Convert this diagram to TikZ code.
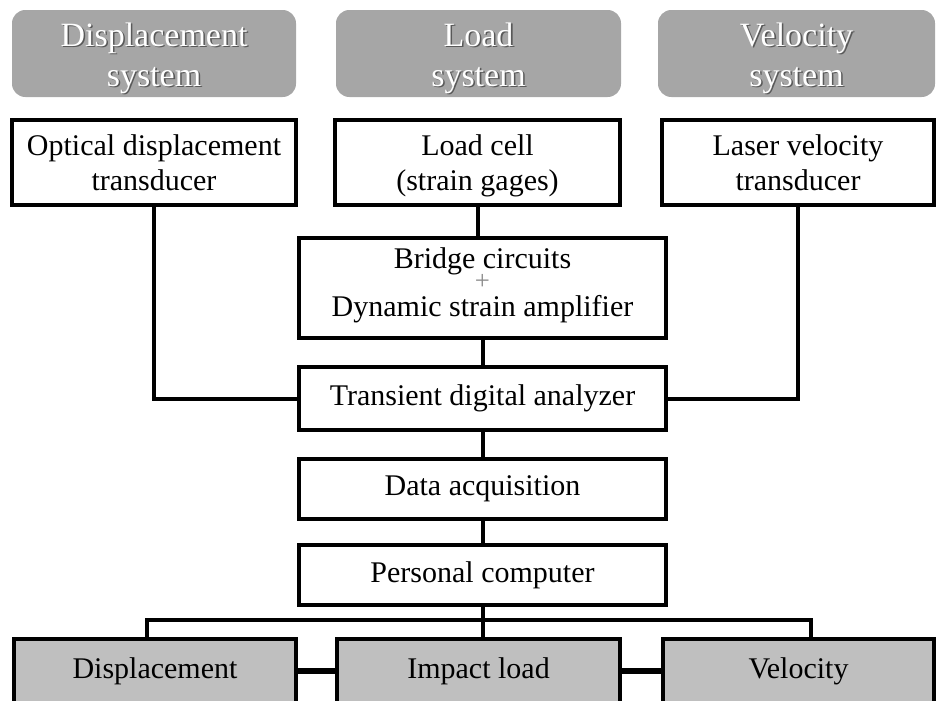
\documentclass[tikz,border=0pt]{standalone}
\usepackage{fontspec}
\setmainfont{Liberation Serif}
\usepackage{tikz}
\usetikzlibrary{positioning}
\usepackage{xcolor}
\definecolor{headgray}{RGB}{166, 166, 166}
\definecolor{resultgray}{RGB}{191, 191, 191}
\newcommand{\shline}[1]{\makebox[0pt][l]{\hspace{1.2pt}\raisebox{-1.2pt}{\color{black!65}#1}}{\color{white}#1}}

\begin{document}
\begin{tikzpicture}[x=0.75pt, y=0.75pt,
    box/.style={draw, rectangle, line width=3pt, fill=white, align=center, inner sep=0pt, font=\fontsize{22.5}{26}\selectfont},
    headbox/.style={rectangle, rounded corners=10pt, fill=headgray, align=center, inner sep=0pt, font=\fontsize{25.5}{30}\selectfont},
    resultbox/.style={box, fill=resultgray, minimum height=48pt},
    link/.style={line width=3pt}]
    \useasboundingbox (0,0) rectangle (938,-700);

    \node[headbox, minimum width=213pt, minimum height=65.25pt] (hdisp) at (154,-53.5) {\rule{0pt}{26pt}\shline{Displacement}\\\shline{system}};
    \node[headbox, minimum width=213.75pt, minimum height=65.25pt] (hload) at (478.5,-53.5) {\rule{0pt}{26pt}\shline{Load}\\\shline{system}};
    \node[headbox, minimum width=207.75pt, minimum height=65.25pt] (hvel) at (796.5,-53.5) {\rule{0pt}{26pt}\shline{Velocity}\\\shline{system}};

    \node[box, minimum width=213pt, minimum height=63.75pt] (optical) at (154,-162.5) {Optical displacement\\transducer};
    \node[box, minimum width=213.75pt, minimum height=63.75pt] (loadcell) at (477.5,-162.5) {\rule{0pt}{21pt}Load cell\\(strain gages)};
    \node[box, minimum width=204pt, minimum height=63.75pt] (laser) at (798,-162.5) {Laser velocity\\transducer};

    \node[box, minimum width=275.25pt, minimum height=75pt] (bridge) at (482.5,-288) {Bridge circuits\\[-10pt]{\fontsize{20}{20}\selectfont\color{black!45}+}\\[-6pt]Dynamic strain amplifier\rule[-9pt]{0pt}{0pt}};
    \node[box, minimum width=275.25pt, minimum height=47.25pt] (transient) at (482.5,-398.5) {Transient digital analyzer};
    \node[box, minimum width=275.25pt, minimum height=45pt] (daq) at (482.5,-489) {Data acquisition};
    \node[box, minimum width=275.25pt, minimum height=45pt] (pc) at (482.5,-575) {Personal computer};

    \node[resultbox, minimum width=211.5pt] (bdisp) at (155,-671) {Displacement};
    \node[resultbox, minimum width=212.25pt] (bimpact) at (478.5,-671) {Impact load};
    \node[resultbox, minimum width=203.25pt] (bvel) at (798.5,-671) {Velocity};

    \draw[link] (optical.south) |- (transient.west);
    \draw[link] (laser.south) |- (transient.east);
    \draw[link] (loadcell.south) -- (loadcell.south |- bridge.north);
    \draw[link] (bridge) -- (transient);
    \draw[link] (transient) -- (daq);
    \draw[link] (daq) -- (pc);
    \draw[link] (pc.south) -- (pc.south |- bimpact.north);
    \draw[link] ([xshift=-6pt]bdisp.north) -- ++(0,17) -| ([xshift=9pt]bvel.north);
    \draw[line width=5pt] (bdisp) -- (bimpact);
    \draw[line width=5pt] (bimpact) -- (bvel);
\end{tikzpicture}
\end{document}
